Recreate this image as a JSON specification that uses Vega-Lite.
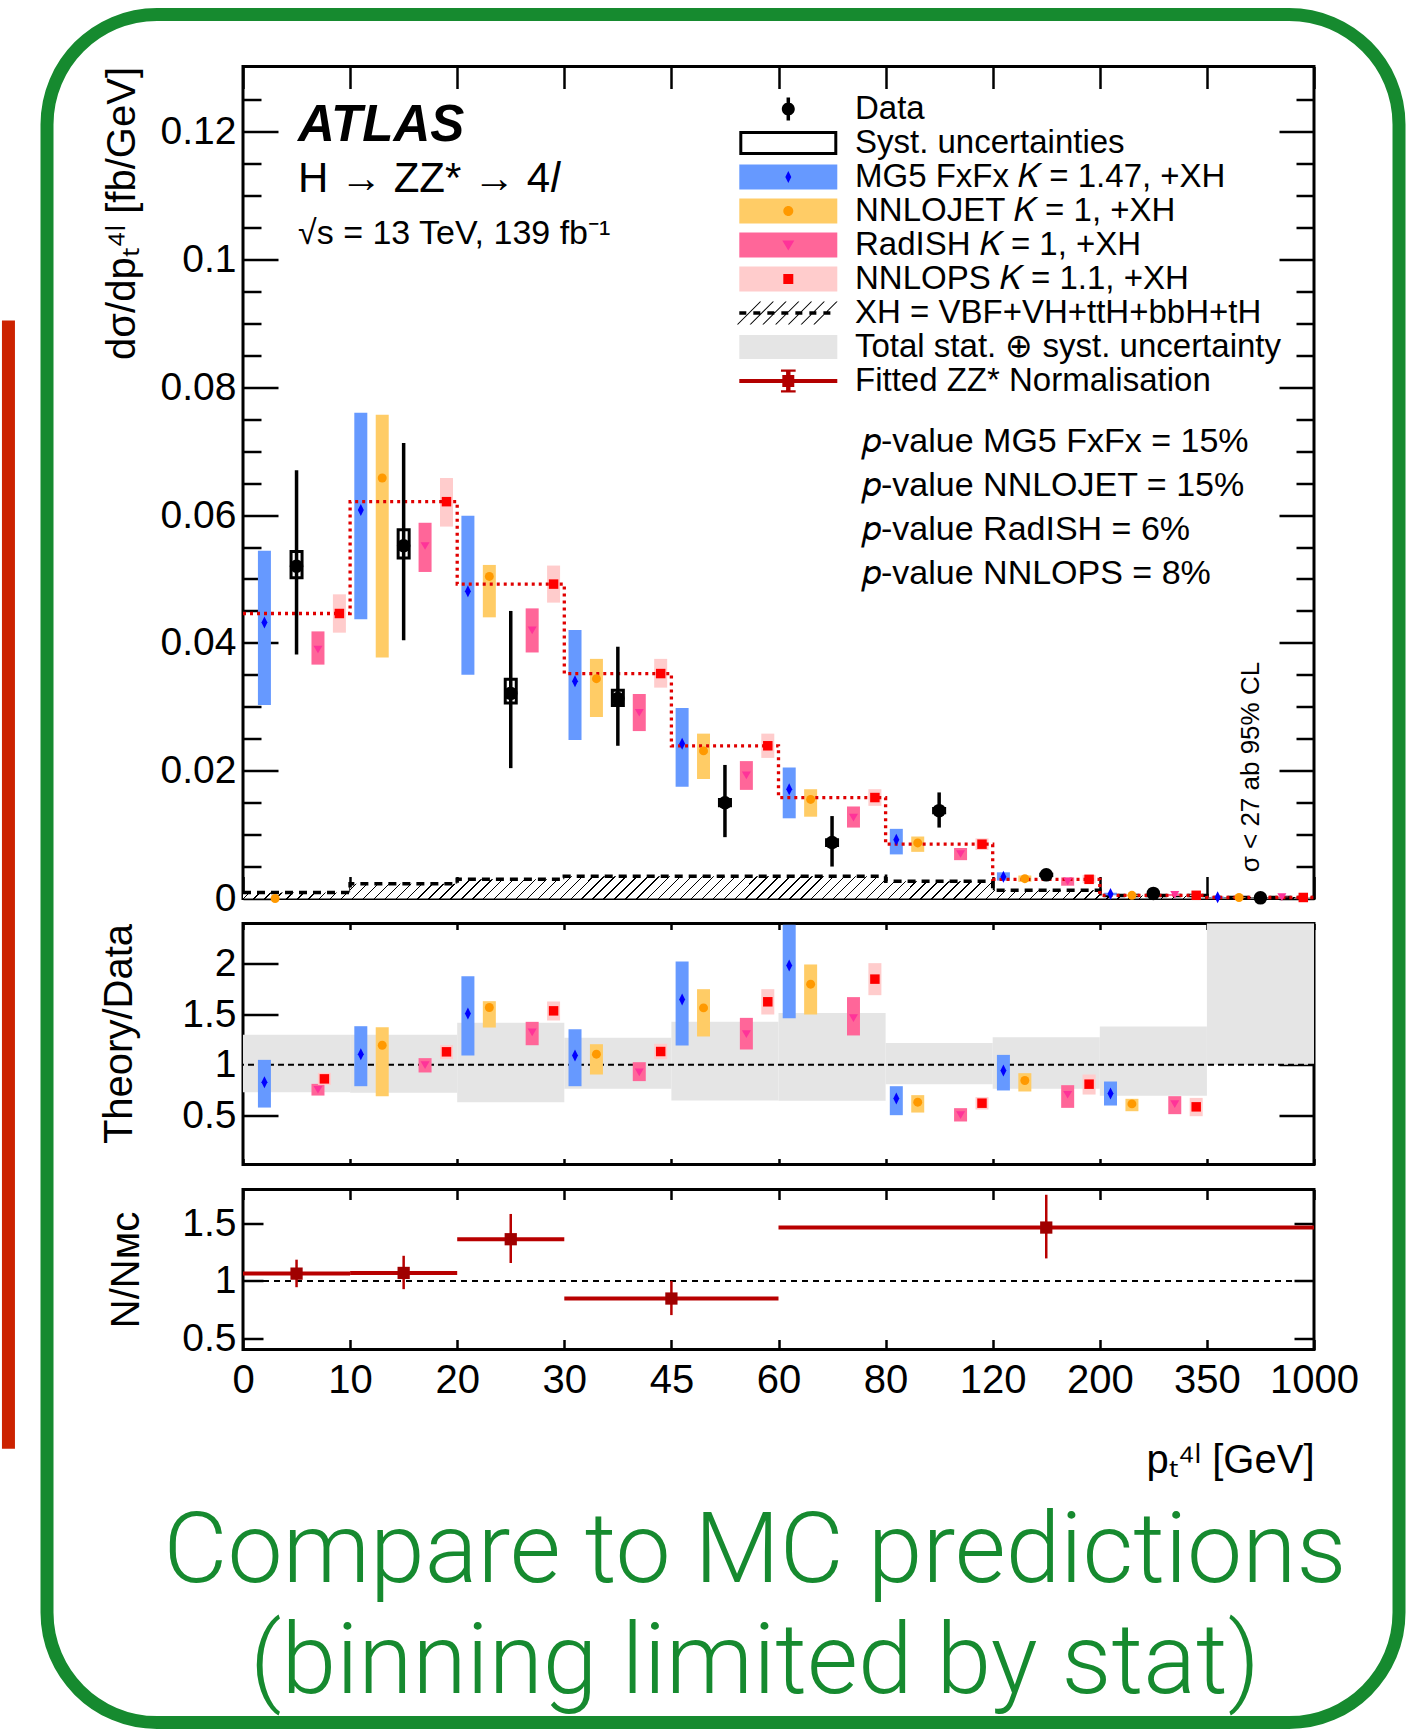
{
  "$schema": "https://vega.github.io/schema/vega-lite/v6.json",
  "background": "white",
  "padding": {"left": 0, "top": 5.5, "right": 0, "bottom": 0},
  "autosize": {"type": "pad"},
  "spacing": 25,
  "bounds": "flush",
  "config": {
    "view": {"stroke": "black", "strokeWidth": 3},
    "axis": {"domain": false, "grid": false, "ticks": true, "tickColor": "black", "tickWidth": 2.5,
             "labelFont": "Liberation Sans", "labelFontSize": 39, "labelColor": "black", "labelFlush": false, "labelOverlap": false, "labelBound": false,
             "titleFont": "Liberation Sans", "titleFontSize": 40, "titleFontWeight": "normal", "titleColor": "black"},
    "text": {"font": "Liberation Sans", "color": "black"}
  },
  "resolve": {"scale": {"fill": "independent", "color": "independent", "shape": "independent"}},
  "datasets": {
    "xh": [{"pt":0,"xh":0.00095},{"pt":10,"xh":0.0023},{"pt":20,"xh":0.003},{"pt":30,"xh":0.0035},{"pt":45,"xh":0.0035},{"pt":60,"xh":0.0035},{"pt":80,"xh":0.0027},{"pt":120,"xh":0.0013},{"pt":200,"xh":0.00047},{"pt":350,"xh":0.00016},{"pt":1000,"xh":0.00016}],
    "step": [{"pt":0,"y":0.0446},{"pt":10,"y":0.0621},{"pt":20,"y":0.0492},{"pt":30,"y":0.0352},{"pt":45,"y":0.0239},{"pt":60,"y":0.0158},{"pt":80,"y":0.0085},{"pt":120,"y":0.003},{"pt":200,"y":0.0005},{"pt":350,"y":0.00016},{"pt":1000,"y":0.00016}],
    "spec": [
      {"model":"MG5","pt":2,"y":0.0432,"lo":0.0303,"hi":0.0544},
      {"model":"MG5","pt":11,"y":0.0608,"lo":0.0437,"hi":0.076},
      {"model":"MG5","pt":21,"y":0.0481,"lo":0.035,"hi":0.0599},
      {"model":"MG5","pt":31.5,"y":0.034,"lo":0.0248,"hi":0.042},
      {"model":"MG5","pt":46.5,"y":0.0242,"lo":0.0175,"hi":0.0298},
      {"model":"MG5","pt":62,"y":0.0171,"lo":0.01255,"hi":0.0205},
      {"model":"MG5","pt":84,"y":0.0092,"lo":0.0069,"hi":0.0109},
      {"model":"MG5","pt":128,"y":0.0034,"lo":0.0028,"hi":0.0041},
      {"model":"MG5","pt":215,"y":0.0007,"lo":0.0005,"hi":0.0009},
      {"model":"MG5","pt":415,"y":0.0002,"lo":0.0001,"hi":0.0003},
      {"model":"NNLOJET","pt":3,"y":0,"lo":0,"hi":0},
      {"model":"NNLOJET","pt":13,"y":0.0658,"lo":0.0377,"hi":0.0757},
      {"model":"NNLOJET","pt":23,"y":0.0504,"lo":0.044,"hi":0.0522},
      {"model":"NNLOJET","pt":34.5,"y":0.0344,"lo":0.0284,"hi":0.0375},
      {"model":"NNLOJET","pt":49.5,"y":0.0231,"lo":0.0187,"hi":0.0258},
      {"model":"NNLOJET","pt":66,"y":0.0155,"lo":0.0128,"hi":0.0171},
      {"model":"NNLOJET","pt":92,"y":0.0087,"lo":0.0073,"hi":0.0097},
      {"model":"NNLOJET","pt":144,"y":0.0031,"lo":0.0026,"hi":0.0036},
      {"model":"NNLOJET","pt":245,"y":0.0005,"lo":0.0004,"hi":0.0006},
      {"model":"NNLOJET","pt":545,"y":0.00016,"lo":0.0001,"hi":0.0002},
      {"model":"RadISH","pt":7,"y":0.039,"lo":0.0366,"hi":0.0418},
      {"model":"RadISH","pt":17,"y":0.0552,"lo":0.0511,"hi":0.0588},
      {"model":"RadISH","pt":27,"y":0.042,"lo":0.0385,"hi":0.0454},
      {"model":"RadISH","pt":40.5,"y":0.0291,"lo":0.0262,"hi":0.032},
      {"model":"RadISH","pt":55.5,"y":0.0193,"lo":0.017,"hi":0.0215},
      {"model":"RadISH","pt":74,"y":0.0127,"lo":0.0111,"hi":0.0144},
      {"model":"RadISH","pt":108,"y":0.007,"lo":0.006,"hi":0.0079},
      {"model":"RadISH","pt":176,"y":0.0027,"lo":0.002,"hi":0.0033},
      {"model":"RadISH","pt":305,"y":0.0006,"lo":0.0004,"hi":0.0007},
      {"model":"RadISH","pt":805,"y":0.00026,"lo":0.0002,"hi":0.0003},
      {"model":"NNLOPS","pt":9,"y":0.0446,"lo":0.0416,"hi":0.0476},
      {"model":"NNLOPS","pt":19,"y":0.0621,"lo":0.0582,"hi":0.0658},
      {"model":"NNLOPS","pt":29,"y":0.0492,"lo":0.0463,"hi":0.0521},
      {"model":"NNLOPS","pt":43.5,"y":0.0352,"lo":0.033,"hi":0.0375},
      {"model":"NNLOPS","pt":58.5,"y":0.0239,"lo":0.022,"hi":0.0258},
      {"model":"NNLOPS","pt":78,"y":0.0158,"lo":0.0145,"hi":0.0171},
      {"model":"NNLOPS","pt":116,"y":0.0085,"lo":0.0076,"hi":0.0094},
      {"model":"NNLOPS","pt":192,"y":0.003,"lo":0.0024,"hi":0.0037},
      {"model":"NNLOPS","pt":335,"y":0.0005,"lo":0.0004,"hi":0.0006},
      {"model":"NNLOPS","pt":935,"y":0.00016,"lo":0.0001,"hi":0.0002}
    ],
    "meas": [
      {"pt":5,"y":0.052,"lo":0.0382,"hi":0.067,"slo":0.0502,"shi":0.0543},
      {"pt":15,"y":0.0552,"lo":0.0404,"hi":0.0713,"slo":0.0533,"shi":0.0577},
      {"pt":25,"y":0.0321,"lo":0.0204,"hi":0.045,"slo":0.0306,"shi":0.0343},
      {"pt":37.5,"y":0.0313,"lo":0.0239,"hi":0.0394,"slo":0.0302,"shi":0.0326},
      {"pt":52.5,"y":0.015,"lo":0.0096,"hi":0.0209,"slo":0.0145,"shi":0.0155},
      {"pt":70,"y":0.00875,"lo":0.005,"hi":0.0129,"slo":0.0083,"shi":0.0092},
      {"pt":100,"y":0.01375,"lo":0.0111,"hi":0.0166,"slo":0.0134,"shi":0.0141},
      {"pt":160,"y":0.0037,"lo":0.0033,"hi":0.0041,"slo":0.0036,"shi":0.0038},
      {"pt":275,"y":0.0008,"lo":0.0006,"hi":0.001,"slo":0.0008,"shi":0.0008},
      {"pt":675,"y":0.0001,"lo":0,"hi":0.0002,"slo":0.0001,"shi":0.0001}
    ],
    "band": [
      {"x0":0,"x1":10,"lo":0.731,"hi":1.295},
      {"x0":10,"x1":20,"lo":0.725,"hi":1.295},
      {"x0":20,"x1":30,"lo":0.633,"hi":1.413},
      {"x0":30,"x1":45,"lo":0.764,"hi":1.266},
      {"x0":45,"x1":60,"lo":0.649,"hi":1.423},
      {"x0":60,"x1":80,"lo":0.646,"hi":1.511},
      {"x0":80,"x1":120,"lo":0.81,"hi":1.216},
      {"x0":120,"x1":200,"lo":0.764,"hi":1.272},
      {"x0":200,"x1":350,"lo":0.695,"hi":1.377},
      {"x0":350,"x1":1000,"lo":1.0,"hi":2.39}
    ],
    "ratio": [
      {"model":"MG5","pt":2,"r":0.83,"lo":0.58,"hi":1.049},
      {"model":"MG5","pt":11,"r":1.105,"lo":0.79,"hi":1.38},
      {"model":"MG5","pt":21,"r":1.505,"lo":1.092,"hi":1.872},
      {"model":"MG5","pt":31.5,"r":1.092,"lo":0.79,"hi":1.35},
      {"model":"MG5","pt":46.5,"r":1.643,"lo":1.19,"hi":2.016},
      {"model":"MG5","pt":62,"r":1.977,"lo":1.459,"hi":2.377},
      {"model":"MG5","pt":84,"r":0.669,"lo":0.505,"hi":0.79},
      {"model":"MG5","pt":128,"r":0.944,"lo":0.748,"hi":1.098},
      {"model":"MG5","pt":215,"r":0.718,"lo":0.6,"hi":0.836},
      {"model":"NNLOJET","pt":13,"r":1.193,"lo":0.69,"hi":1.37},
      {"model":"NNLOJET","pt":23,"r":1.564,"lo":1.367,"hi":1.626},
      {"model":"NNLOJET","pt":34.5,"r":1.105,"lo":0.905,"hi":1.203},
      {"model":"NNLOJET","pt":49.5,"r":1.56,"lo":1.279,"hi":1.744},
      {"model":"NNLOJET","pt":66,"r":1.793,"lo":1.495,"hi":1.987},
      {"model":"NNLOJET","pt":92,"r":0.633,"lo":0.531,"hi":0.702},
      {"model":"NNLOJET","pt":144,"r":0.846,"lo":0.738,"hi":0.918},
      {"model":"NNLOJET","pt":245,"r":0.616,"lo":0.544,"hi":0.666},
      {"model":"RadISH","pt":7,"r":0.757,"lo":0.698,"hi":0.813},
      {"model":"RadISH","pt":17,"r":1.0,"lo":0.925,"hi":1.066},
      {"model":"RadISH","pt":27,"r":1.321,"lo":1.193,"hi":1.423},
      {"model":"RadISH","pt":40.5,"r":0.928,"lo":0.84,"hi":1.026},
      {"model":"RadISH","pt":55.5,"r":1.305,"lo":1.151,"hi":1.462},
      {"model":"RadISH","pt":74,"r":1.462,"lo":1.289,"hi":1.666},
      {"model":"RadISH","pt":108,"r":0.508,"lo":0.443,"hi":0.574},
      {"model":"RadISH","pt":176,"r":0.708,"lo":0.577,"hi":0.8},
      {"model":"RadISH","pt":305,"r":0.616,"lo":0.515,"hi":0.692},
      {"model":"NNLOPS","pt":7.6,"r":0.862,"lo":0.803,"hi":0.921},
      {"model":"NNLOPS","pt":19,"r":1.128,"lo":1.056,"hi":1.193},
      {"model":"NNLOPS","pt":29,"r":1.531,"lo":1.436,"hi":1.623},
      {"model":"NNLOPS","pt":43.5,"r":1.131,"lo":1.056,"hi":1.207},
      {"model":"NNLOPS","pt":58.5,"r":1.62,"lo":1.495,"hi":1.744},
      {"model":"NNLOPS","pt":78,"r":1.843,"lo":1.685,"hi":2.0},
      {"model":"NNLOPS","pt":116,"r":0.623,"lo":0.561,"hi":0.682},
      {"model":"NNLOPS","pt":192,"r":0.81,"lo":0.708,"hi":0.905},
      {"model":"NNLOPS","pt":335,"r":0.587,"lo":0.495,"hi":0.675}
    ],
    "norm": [
      {"x0":0,"x1":10,"pt":5,"y":1.064,"lo":0.945,"hi":1.186},
      {"x0":10,"x1":20,"pt":15,"y":1.07,"lo":0.928,"hi":1.22},
      {"x0":20,"x1":30,"pt":25,"y":1.365,"lo":1.157,"hi":1.586},
      {"x0":30,"x1":60,"pt":45,"y":0.846,"lo":0.701,"hi":1.0},
      {"x0":60,"x1":1000,"pt":160,"y":1.467,"lo":1.197,"hi":1.754}
    ],
    "legend_a": [
      {"entry":"Data"},{"entry":"Syst. uncertainties"},{"entry":"MG5 FxFx 𝐾 = 1.47, +XH"},{"entry":"NNLOJET 𝐾 = 1, +XH"},{"entry":"RadISH 𝐾 = 1, +XH"},{"entry":"NNLOPS 𝐾 = 1.1, +XH"},{"entry":"XH = VBF+VH+ttH+bbH+tH"},{"entry":"Total stat. ⊕ syst. uncertainty"},{"entry":"Fitted ZZ* Normalisation"}
    ],
    "legend_b": [
      {"entry":"data marker"},{"entry":"syst marker"},{"entry":"mg5 marker"},{"entry":"nnlojet marker"},{"entry":"radish marker"},{"entry":"nnlops marker"},{"entry":"xh marker"},{"entry":"total marker"},{"entry":"fit marker"}
    ]
  },
  "vconcat": [
    {
      "width": 1071,
      "height": 832,
      "resolve": {"scale": {"fill": "independent", "color": "independent", "shape": "independent"}, "axis": {"x": "independent", "y": "independent"}},
      "layer": [
        {
          "data": {"name": "xh"},
          "mark": {"type": "area", "interpolate": "step-after", "opacity": 1,
            "fill": {"gradient": "linear", "x1": 0, "y1": 0, "x2": 1.0204, "y2": 0.0213, "stops": [
              {"offset":0,"color":"#fff"},{"offset":0,"color":"#000"},{"offset":0.0013,"color":"#000"},{"offset":0.0013,"color":"#fff"},
              {"offset":0.01,"color":"#fff"},{"offset":0.01,"color":"#000"},{"offset":0.0113,"color":"#000"},{"offset":0.0113,"color":"#fff"},
              {"offset":0.02,"color":"#fff"},{"offset":0.02,"color":"#000"},{"offset":0.0213,"color":"#000"},{"offset":0.0213,"color":"#fff"},
              {"offset":0.03,"color":"#fff"},{"offset":0.03,"color":"#000"},{"offset":0.0313,"color":"#000"},{"offset":0.0313,"color":"#fff"},
              {"offset":0.04,"color":"#fff"},{"offset":0.04,"color":"#000"},{"offset":0.0413,"color":"#000"},{"offset":0.0413,"color":"#fff"},
              {"offset":0.05,"color":"#fff"},{"offset":0.05,"color":"#000"},{"offset":0.0513,"color":"#000"},{"offset":0.0513,"color":"#fff"},
              {"offset":0.06,"color":"#fff"},{"offset":0.06,"color":"#000"},{"offset":0.0613,"color":"#000"},{"offset":0.0613,"color":"#fff"},
              {"offset":0.07,"color":"#fff"},{"offset":0.07,"color":"#000"},{"offset":0.0713,"color":"#000"},{"offset":0.0713,"color":"#fff"},
              {"offset":0.08,"color":"#fff"},{"offset":0.08,"color":"#000"},{"offset":0.0813,"color":"#000"},{"offset":0.0813,"color":"#fff"},
              {"offset":0.09,"color":"#fff"},{"offset":0.09,"color":"#000"},{"offset":0.0913,"color":"#000"},{"offset":0.0913,"color":"#fff"},
              {"offset":0.1,"color":"#fff"},{"offset":0.1,"color":"#000"},{"offset":0.1013,"color":"#000"},{"offset":0.1013,"color":"#fff"},
              {"offset":0.11,"color":"#fff"},{"offset":0.11,"color":"#000"},{"offset":0.1113,"color":"#000"},{"offset":0.1113,"color":"#fff"},
              {"offset":0.12,"color":"#fff"},{"offset":0.12,"color":"#000"},{"offset":0.1213,"color":"#000"},{"offset":0.1213,"color":"#fff"},
              {"offset":0.13,"color":"#fff"},{"offset":0.13,"color":"#000"},{"offset":0.1313,"color":"#000"},{"offset":0.1313,"color":"#fff"},
              {"offset":0.14,"color":"#fff"},{"offset":0.14,"color":"#000"},{"offset":0.1413,"color":"#000"},{"offset":0.1413,"color":"#fff"},
              {"offset":0.15,"color":"#fff"},{"offset":0.15,"color":"#000"},{"offset":0.1513,"color":"#000"},{"offset":0.1513,"color":"#fff"},
              {"offset":0.16,"color":"#fff"},{"offset":0.16,"color":"#000"},{"offset":0.1613,"color":"#000"},{"offset":0.1613,"color":"#fff"},
              {"offset":0.17,"color":"#fff"},{"offset":0.17,"color":"#000"},{"offset":0.1713,"color":"#000"},{"offset":0.1713,"color":"#fff"},
              {"offset":0.18,"color":"#fff"},{"offset":0.18,"color":"#000"},{"offset":0.1813,"color":"#000"},{"offset":0.1813,"color":"#fff"},
              {"offset":0.19,"color":"#fff"},{"offset":0.19,"color":"#000"},{"offset":0.1913,"color":"#000"},{"offset":0.1913,"color":"#fff"},
              {"offset":0.2,"color":"#fff"},{"offset":0.2,"color":"#000"},{"offset":0.2013,"color":"#000"},{"offset":0.2013,"color":"#fff"},
              {"offset":0.21,"color":"#fff"},{"offset":0.21,"color":"#000"},{"offset":0.2113,"color":"#000"},{"offset":0.2113,"color":"#fff"},
              {"offset":0.22,"color":"#fff"},{"offset":0.22,"color":"#000"},{"offset":0.2213,"color":"#000"},{"offset":0.2213,"color":"#fff"},
              {"offset":0.23,"color":"#fff"},{"offset":0.23,"color":"#000"},{"offset":0.2313,"color":"#000"},{"offset":0.2313,"color":"#fff"},
              {"offset":0.24,"color":"#fff"},{"offset":0.24,"color":"#000"},{"offset":0.2413,"color":"#000"},{"offset":0.2413,"color":"#fff"},
              {"offset":0.25,"color":"#fff"},{"offset":0.25,"color":"#000"},{"offset":0.2513,"color":"#000"},{"offset":0.2513,"color":"#fff"},
              {"offset":0.26,"color":"#fff"},{"offset":0.26,"color":"#000"},{"offset":0.2613,"color":"#000"},{"offset":0.2613,"color":"#fff"},
              {"offset":0.27,"color":"#fff"},{"offset":0.27,"color":"#000"},{"offset":0.2713,"color":"#000"},{"offset":0.2713,"color":"#fff"},
              {"offset":0.28,"color":"#fff"},{"offset":0.28,"color":"#000"},{"offset":0.2813,"color":"#000"},{"offset":0.2813,"color":"#fff"},
              {"offset":0.29,"color":"#fff"},{"offset":0.29,"color":"#000"},{"offset":0.2913,"color":"#000"},{"offset":0.2913,"color":"#fff"},
              {"offset":0.3,"color":"#fff"},{"offset":0.3,"color":"#000"},{"offset":0.3013,"color":"#000"},{"offset":0.3013,"color":"#fff"},
              {"offset":0.31,"color":"#fff"},{"offset":0.31,"color":"#000"},{"offset":0.3113,"color":"#000"},{"offset":0.3113,"color":"#fff"},
              {"offset":0.32,"color":"#fff"},{"offset":0.32,"color":"#000"},{"offset":0.3213,"color":"#000"},{"offset":0.3213,"color":"#fff"},
              {"offset":0.33,"color":"#fff"},{"offset":0.33,"color":"#000"},{"offset":0.3313,"color":"#000"},{"offset":0.3313,"color":"#fff"},
              {"offset":0.34,"color":"#fff"},{"offset":0.34,"color":"#000"},{"offset":0.3413,"color":"#000"},{"offset":0.3413,"color":"#fff"},
              {"offset":0.35,"color":"#fff"},{"offset":0.35,"color":"#000"},{"offset":0.3513,"color":"#000"},{"offset":0.3513,"color":"#fff"},
              {"offset":0.36,"color":"#fff"},{"offset":0.36,"color":"#000"},{"offset":0.3613,"color":"#000"},{"offset":0.3613,"color":"#fff"},
              {"offset":0.37,"color":"#fff"},{"offset":0.37,"color":"#000"},{"offset":0.3713,"color":"#000"},{"offset":0.3713,"color":"#fff"},
              {"offset":0.38,"color":"#fff"},{"offset":0.38,"color":"#000"},{"offset":0.3813,"color":"#000"},{"offset":0.3813,"color":"#fff"},
              {"offset":0.39,"color":"#fff"},{"offset":0.39,"color":"#000"},{"offset":0.3913,"color":"#000"},{"offset":0.3913,"color":"#fff"},
              {"offset":0.4,"color":"#fff"},{"offset":0.4,"color":"#000"},{"offset":0.4013,"color":"#000"},{"offset":0.4013,"color":"#fff"},
              {"offset":0.41,"color":"#fff"},{"offset":0.41,"color":"#000"},{"offset":0.4113,"color":"#000"},{"offset":0.4113,"color":"#fff"},
              {"offset":0.42,"color":"#fff"},{"offset":0.42,"color":"#000"},{"offset":0.4213,"color":"#000"},{"offset":0.4213,"color":"#fff"},
              {"offset":0.43,"color":"#fff"},{"offset":0.43,"color":"#000"},{"offset":0.4313,"color":"#000"},{"offset":0.4313,"color":"#fff"},
              {"offset":0.44,"color":"#fff"},{"offset":0.44,"color":"#000"},{"offset":0.4413,"color":"#000"},{"offset":0.4413,"color":"#fff"},
              {"offset":0.45,"color":"#fff"},{"offset":0.45,"color":"#000"},{"offset":0.4513,"color":"#000"},{"offset":0.4513,"color":"#fff"},
              {"offset":0.46,"color":"#fff"},{"offset":0.46,"color":"#000"},{"offset":0.4613,"color":"#000"},{"offset":0.4613,"color":"#fff"},
              {"offset":0.47,"color":"#fff"},{"offset":0.47,"color":"#000"},{"offset":0.4713,"color":"#000"},{"offset":0.4713,"color":"#fff"},
              {"offset":0.48,"color":"#fff"},{"offset":0.48,"color":"#000"},{"offset":0.4813,"color":"#000"},{"offset":0.4813,"color":"#fff"},
              {"offset":0.49,"color":"#fff"},{"offset":0.49,"color":"#000"},{"offset":0.4913,"color":"#000"},{"offset":0.4913,"color":"#fff"},
              {"offset":0.5,"color":"#fff"},{"offset":0.5,"color":"#000"},{"offset":0.5013,"color":"#000"},{"offset":0.5013,"color":"#fff"},
              {"offset":0.51,"color":"#fff"},{"offset":0.51,"color":"#000"},{"offset":0.5113,"color":"#000"},{"offset":0.5113,"color":"#fff"},
              {"offset":0.52,"color":"#fff"},{"offset":0.52,"color":"#000"},{"offset":0.5213,"color":"#000"},{"offset":0.5213,"color":"#fff"},
              {"offset":0.53,"color":"#fff"},{"offset":0.53,"color":"#000"},{"offset":0.5313,"color":"#000"},{"offset":0.5313,"color":"#fff"},
              {"offset":0.54,"color":"#fff"},{"offset":0.54,"color":"#000"},{"offset":0.5413,"color":"#000"},{"offset":0.5413,"color":"#fff"},
              {"offset":0.55,"color":"#fff"},{"offset":0.55,"color":"#000"},{"offset":0.5513,"color":"#000"},{"offset":0.5513,"color":"#fff"},
              {"offset":0.56,"color":"#fff"},{"offset":0.56,"color":"#000"},{"offset":0.5613,"color":"#000"},{"offset":0.5613,"color":"#fff"},
              {"offset":0.57,"color":"#fff"},{"offset":0.57,"color":"#000"},{"offset":0.5713,"color":"#000"},{"offset":0.5713,"color":"#fff"},
              {"offset":0.58,"color":"#fff"},{"offset":0.58,"color":"#000"},{"offset":0.5813,"color":"#000"},{"offset":0.5813,"color":"#fff"},
              {"offset":0.59,"color":"#fff"},{"offset":0.59,"color":"#000"},{"offset":0.5913,"color":"#000"},{"offset":0.5913,"color":"#fff"},
              {"offset":0.6,"color":"#fff"},{"offset":0.6,"color":"#000"},{"offset":0.6013,"color":"#000"},{"offset":0.6013,"color":"#fff"},
              {"offset":0.61,"color":"#fff"},{"offset":0.61,"color":"#000"},{"offset":0.6113,"color":"#000"},{"offset":0.6113,"color":"#fff"},
              {"offset":0.62,"color":"#fff"},{"offset":0.62,"color":"#000"},{"offset":0.6213,"color":"#000"},{"offset":0.6213,"color":"#fff"},
              {"offset":0.63,"color":"#fff"},{"offset":0.63,"color":"#000"},{"offset":0.6313,"color":"#000"},{"offset":0.6313,"color":"#fff"},
              {"offset":0.64,"color":"#fff"},{"offset":0.64,"color":"#000"},{"offset":0.6413,"color":"#000"},{"offset":0.6413,"color":"#fff"},
              {"offset":0.65,"color":"#fff"},{"offset":0.65,"color":"#000"},{"offset":0.6513,"color":"#000"},{"offset":0.6513,"color":"#fff"},
              {"offset":0.66,"color":"#fff"},{"offset":0.66,"color":"#000"},{"offset":0.6613,"color":"#000"},{"offset":0.6613,"color":"#fff"},
              {"offset":0.67,"color":"#fff"},{"offset":0.67,"color":"#000"},{"offset":0.6713,"color":"#000"},{"offset":0.6713,"color":"#fff"},
              {"offset":0.68,"color":"#fff"},{"offset":0.68,"color":"#000"},{"offset":0.6813,"color":"#000"},{"offset":0.6813,"color":"#fff"},
              {"offset":0.69,"color":"#fff"},{"offset":0.69,"color":"#000"},{"offset":0.6913,"color":"#000"},{"offset":0.6913,"color":"#fff"},
              {"offset":0.7,"color":"#fff"},{"offset":0.7,"color":"#000"},{"offset":0.7013,"color":"#000"},{"offset":0.7013,"color":"#fff"},
              {"offset":0.71,"color":"#fff"},{"offset":0.71,"color":"#000"},{"offset":0.7113,"color":"#000"},{"offset":0.7113,"color":"#fff"},
              {"offset":0.72,"color":"#fff"},{"offset":0.72,"color":"#000"},{"offset":0.7213,"color":"#000"},{"offset":0.7213,"color":"#fff"},
              {"offset":0.73,"color":"#fff"},{"offset":0.73,"color":"#000"},{"offset":0.7313,"color":"#000"},{"offset":0.7313,"color":"#fff"},
              {"offset":0.74,"color":"#fff"},{"offset":0.74,"color":"#000"},{"offset":0.7413,"color":"#000"},{"offset":0.7413,"color":"#fff"},
              {"offset":0.75,"color":"#fff"},{"offset":0.75,"color":"#000"},{"offset":0.7513,"color":"#000"},{"offset":0.7513,"color":"#fff"},
              {"offset":0.76,"color":"#fff"},{"offset":0.76,"color":"#000"},{"offset":0.7613,"color":"#000"},{"offset":0.7613,"color":"#fff"},
              {"offset":0.77,"color":"#fff"},{"offset":0.77,"color":"#000"},{"offset":0.7713,"color":"#000"},{"offset":0.7713,"color":"#fff"},
              {"offset":0.78,"color":"#fff"},{"offset":0.78,"color":"#000"},{"offset":0.7813,"color":"#000"},{"offset":0.7813,"color":"#fff"},
              {"offset":0.79,"color":"#fff"},{"offset":0.79,"color":"#000"},{"offset":0.7913,"color":"#000"},{"offset":0.7913,"color":"#fff"},
              {"offset":0.8,"color":"#fff"},{"offset":0.8,"color":"#000"},{"offset":0.8013,"color":"#000"},{"offset":0.8013,"color":"#fff"},
              {"offset":0.81,"color":"#fff"},{"offset":0.81,"color":"#000"},{"offset":0.8113,"color":"#000"},{"offset":0.8113,"color":"#fff"},
              {"offset":0.82,"color":"#fff"},{"offset":0.82,"color":"#000"},{"offset":0.8213,"color":"#000"},{"offset":0.8213,"color":"#fff"},
              {"offset":0.83,"color":"#fff"},{"offset":0.83,"color":"#000"},{"offset":0.8313,"color":"#000"},{"offset":0.8313,"color":"#fff"},
              {"offset":0.84,"color":"#fff"},{"offset":0.84,"color":"#000"},{"offset":0.8413,"color":"#000"},{"offset":0.8413,"color":"#fff"},
              {"offset":0.85,"color":"#fff"},{"offset":0.85,"color":"#000"},{"offset":0.8513,"color":"#000"},{"offset":0.8513,"color":"#fff"},
              {"offset":0.86,"color":"#fff"},{"offset":0.86,"color":"#000"},{"offset":0.8613,"color":"#000"},{"offset":0.8613,"color":"#fff"},
              {"offset":0.87,"color":"#fff"},{"offset":0.87,"color":"#000"},{"offset":0.8713,"color":"#000"},{"offset":0.8713,"color":"#fff"},
              {"offset":0.88,"color":"#fff"},{"offset":0.88,"color":"#000"},{"offset":0.8813,"color":"#000"},{"offset":0.8813,"color":"#fff"},
              {"offset":0.89,"color":"#fff"},{"offset":0.89,"color":"#000"},{"offset":0.8913,"color":"#000"},{"offset":0.8913,"color":"#fff"},
              {"offset":0.9,"color":"#fff"},{"offset":0.9,"color":"#000"},{"offset":0.9013,"color":"#000"},{"offset":0.9013,"color":"#fff"},
              {"offset":0.91,"color":"#fff"},{"offset":0.91,"color":"#000"},{"offset":0.9113,"color":"#000"},{"offset":0.9113,"color":"#fff"},
              {"offset":0.92,"color":"#fff"},{"offset":0.92,"color":"#000"},{"offset":0.9213,"color":"#000"},{"offset":0.9213,"color":"#fff"},
              {"offset":0.93,"color":"#fff"},{"offset":0.93,"color":"#000"},{"offset":0.9313,"color":"#000"},{"offset":0.9313,"color":"#fff"},
              {"offset":0.94,"color":"#fff"},{"offset":0.94,"color":"#000"},{"offset":0.9413,"color":"#000"},{"offset":0.9413,"color":"#fff"},
              {"offset":0.95,"color":"#fff"},{"offset":0.95,"color":"#000"},{"offset":0.9513,"color":"#000"},{"offset":0.9513,"color":"#fff"},
              {"offset":0.96,"color":"#fff"},{"offset":0.96,"color":"#000"},{"offset":0.9613,"color":"#000"},{"offset":0.9613,"color":"#fff"},
              {"offset":0.97,"color":"#fff"},{"offset":0.97,"color":"#000"},{"offset":0.9713,"color":"#000"},{"offset":0.9713,"color":"#fff"},
              {"offset":0.98,"color":"#fff"},{"offset":0.98,"color":"#000"},{"offset":0.9813,"color":"#000"},{"offset":0.9813,"color":"#fff"},
              {"offset":0.99,"color":"#fff"},{"offset":0.99,"color":"#000"},{"offset":0.9913,"color":"#000"},{"offset":0.9913,"color":"#fff"}
            ]}},
          "encoding": {
            "x": {"field": "pt", "type": "quantitative",
                  "scale": {"type": "linear", "domain": [0,10,20,30,45,60,80,120,200,350,1000], "range": [0,107.1,214.2,321.3,428.4,535.5,642.6,749.7,856.8,963.9,1071], "nice": false, "zero": false, "padding": 0},
                  "axis": {"orient": "bottom", "values": [0,10,20,30,45,60,80,120,200,350,1000], "tickSize": -22, "labels": false, "title": null}},
            "y": {"field": "xh", "type": "quantitative",
                  "scale": {"domain": [0, 0.1302], "nice": false, "zero": false, "padding": 0},
                  "axis": {"orient": "left", "values": [0,0.02,0.04,0.06,0.08,0.1,0.12], "format": "~g", "tickSize": -35, "labelPadding": 42,
                           "title": "dσ/dpₜ⁴ˡ [fb/GeV]", "titleAnchor": "end", "titlePadding": 18}}
          }
        },
        {
          "data": {"name": "xh"},
          "mark": {"type": "line", "interpolate": "step-after", "color": "black", "strokeWidth": 3.5, "strokeDash": [8, 6], "opacity": 1},
          "encoding": {
            "x": {"field": "pt", "type": "quantitative", "axis": {"orient": "top", "values": [0,10,20,30,45,60,80,120,200,350,1000], "tickSize": -22, "labels": false, "title": null}},
            "y": {"field": "xh", "type": "quantitative", "axis": {"orient": "right", "values": [0,0.02,0.04,0.06,0.08,0.1,0.12], "tickSize": -35, "labels": false, "title": null}}
          }
        },
        {
          "data": {"name": "spec"},
          "transform": [{"filter": "datum.model == 'MG5'"}],
          "mark": {"type": "bar", "size": 13, "color": "#6699ff", "opacity": 1},
          "encoding": {
            "x": {"field": "pt", "type": "quantitative", "axis": null},
            "y": {"field": "lo", "type": "quantitative", "axis": {"orient": "left", "values": [0.005,0.01,0.015,0.025,0.03,0.035,0.045,0.05,0.055,0.065,0.07,0.075,0.085,0.09,0.095,0.105,0.11,0.115,0.125], "tickSize": -18, "labels": false, "title": null}},
            "y2": {"field": "hi"}
          }
        },
        {
          "data": {"name": "spec"},
          "transform": [{"filter": "datum.model == 'NNLOJET'"}],
          "mark": {"type": "bar", "size": 13, "color": "#ffcc66", "opacity": 1},
          "encoding": {
            "x": {"field": "pt", "type": "quantitative", "axis": null},
            "y": {"field": "lo", "type": "quantitative", "axis": {"orient": "right", "values": [0.005,0.01,0.015,0.025,0.03,0.035,0.045,0.05,0.055,0.065,0.07,0.075,0.085,0.09,0.095,0.105,0.11,0.115,0.125], "tickSize": -18, "labels": false, "title": null}},
            "y2": {"field": "hi"}
          }
        },
        {
          "data": {"name": "spec"},
          "transform": [{"filter": "datum.model == 'RadISH'"}],
          "mark": {"type": "bar", "size": 13, "color": "#ff6699", "opacity": 1},
          "encoding": {
            "x": {"field": "pt", "type": "quantitative", "axis": null},
            "y": {"field": "lo", "type": "quantitative", "axis": null},
            "y2": {"field": "hi"}
          }
        },
        {
          "data": {"name": "spec"},
          "transform": [{"filter": "datum.model == 'NNLOPS'"}],
          "mark": {"type": "bar", "size": 13, "color": "#ffcccc", "opacity": 1},
          "encoding": {
            "x": {"field": "pt", "type": "quantitative", "axis": null},
            "y": {"field": "lo", "type": "quantitative", "axis": null},
            "y2": {"field": "hi"}
          }
        },
        {
          "data": {"name": "step"},
          "mark": {"type": "line", "interpolate": "step-after", "color": "#e00000", "strokeWidth": 3.3, "strokeDash": [3, 4], "opacity": 1},
          "encoding": {
            "x": {"field": "pt", "type": "quantitative", "axis": null},
            "y": {"field": "y", "type": "quantitative", "axis": null}
          }
        },
        {
          "data": {"name": "spec"},
          "transform": [{"filter": "datum.model == 'MG5'"}],
          "mark": {"type": "point", "filled": true, "shape": "M0,-1L0.5,0L0,1L-0.5,0Z", "size": 144, "color": "#0000ff", "opacity": 1, "clip": false},
          "encoding": {"x": {"field": "pt", "type": "quantitative", "axis": null}, "y": {"field": "y", "type": "quantitative", "axis": null}}
        },
        {
          "data": {"name": "spec"},
          "transform": [{"filter": "datum.model == 'NNLOJET'"}],
          "mark": {"type": "point", "filled": true, "shape": "circle", "size": 80, "color": "#ff9900", "opacity": 1, "clip": false},
          "encoding": {"x": {"field": "pt", "type": "quantitative", "axis": null}, "y": {"field": "y", "type": "quantitative", "axis": null}}
        },
        {
          "data": {"name": "spec"},
          "transform": [{"filter": "datum.model == 'RadISH'"}],
          "mark": {"type": "point", "filled": true, "shape": "M-1,-0.8L1,-0.8L0,0.9Z", "size": 81, "color": "#ff3399", "opacity": 1, "clip": false},
          "encoding": {"x": {"field": "pt", "type": "quantitative", "axis": null}, "y": {"field": "y", "type": "quantitative", "axis": null}}
        },
        {
          "data": {"name": "spec"},
          "transform": [{"filter": "datum.model == 'NNLOPS'"}],
          "mark": {"type": "point", "filled": true, "shape": "square", "size": 90, "color": "#ff0000", "opacity": 1, "clip": false},
          "encoding": {"x": {"field": "pt", "type": "quantitative", "axis": null}, "y": {"field": "y", "type": "quantitative", "axis": null}}
        },
        {
          "data": {"name": "meas"},
          "mark": {"type": "rule", "color": "black", "strokeWidth": 3.5, "opacity": 1},
          "encoding": {"x": {"field": "pt", "type": "quantitative", "axis": null}, "y": {"field": "lo", "type": "quantitative", "axis": null}, "y2": {"field": "hi"}}
        },
        {
          "data": {"name": "meas"},
          "mark": {"type": "bar", "size": 11, "fill": "transparent", "stroke": "black", "strokeWidth": 3, "opacity": 1},
          "encoding": {"x": {"field": "pt", "type": "quantitative", "axis": null}, "y": {"field": "slo", "type": "quantitative", "axis": null}, "y2": {"field": "shi"}}
        },
        {
          "data": {"name": "meas"},
          "mark": {"type": "point", "filled": true, "shape": "circle", "size": 182, "color": "black", "opacity": 1, "clip": false},
          "encoding": {"x": {"field": "pt", "type": "quantitative", "axis": null}, "y": {"field": "y", "type": "quantitative", "axis": null}}
        },
        {
          "data": {"values": [{}]},
          "mark": {"type": "text", "text": "ATLAS", "fontSize": 51, "fontWeight": "bold", "fontStyle": "italic", "align": "left", "baseline": "alphabetic"},
          "encoding": {"x": {"datum": 5.14, "axis": null}, "y": {"datum": 0.1186, "axis": null}}
        },
        {
          "data": {"values": [{}]},
          "mark": {"type": "text", "text": "H → ZZ* → 4𝑙", "fontSize": 42, "align": "left", "baseline": "alphabetic"},
          "encoding": {"x": {"datum": 5.14, "axis": null}, "y": {"datum": 0.1105, "axis": null}}
        },
        {
          "data": {"values": [{}]},
          "mark": {"type": "text", "text": "√s = 13 TeV, 139 fb⁻¹", "fontSize": 34, "align": "left", "baseline": "alphabetic"},
          "encoding": {"x": {"datum": 5.14, "axis": null}, "y": {"datum": 0.1024, "axis": null}}
        },
        {
          "data": {"values": [{}]},
          "mark": {"type": "text", "text": ["𝑝-value MG5 FxFx = 15%", "𝑝-value NNLOJET = 15%", "𝑝-value RadISH = 6%", "𝑝-value NNLOPS = 8%"], "fontSize": 34, "lineHeight": 44, "align": "left", "baseline": "alphabetic"},
          "encoding": {"x": {"datum": 75.6, "axis": null}, "y": {"datum": 0.0698, "axis": null}}
        },
        {
          "data": {"values": [{}]},
          "mark": {"type": "text", "text": "σ < 27 ab 95% CL", "fontSize": 26, "angle": 270, "align": "left", "baseline": "middle"},
          "encoding": {"x": {"datum": 617.6, "axis": null}, "y": {"datum": 0.0041, "axis": null}}
        },
        {
          "data": {"name": "legend_a"},
          "mark": {"type": "point", "filled": true, "opacity": 0, "size": 0},
          "encoding": {
            "fill": {"field": "entry", "type": "nominal",
                     "scale": {"domain": ["Data","Syst. uncertainties","MG5 FxFx 𝐾 = 1.47, +XH","NNLOJET 𝐾 = 1, +XH","RadISH 𝐾 = 1, +XH","NNLOPS 𝐾 = 1.1, +XH","XH = VBF+VH+ttH+bbH+tH","Total stat. ⊕ syst. uncertainty","Fitted ZZ* Normalisation"],
                               "range": ["#000000","#000000","#6699ff","#ffcc66","#ff6699","#ffcccc","#000000","#e5e5e5","#b30000"]},
                     "legend": {"orient": "none", "legendX": 496.3, "legendY": 25.5, "title": null, "padding": 0, "direction": "vertical", "symbolSize": 1156, "symbolOffset": 32, "symbolStrokeWidth": 0, "symbolOpacity": 1, "labelFont": "Liberation Sans", "labelFontSize": 33, "labelColor": "black", "labelOffset": 49.7, "labelLimit": 800, "rowPadding": 0}},
            "shape": {"field": "entry", "type": "nominal",
                      "scale": {"domain": ["Data","Syst. uncertainties","MG5 FxFx 𝐾 = 1.47, +XH","NNLOJET 𝐾 = 1, +XH","RadISH 𝐾 = 1, +XH","NNLOPS 𝐾 = 1.1, +XH","XH = VBF+VH+ttH+bbH+tH","Total stat. ⊕ syst. uncertainty","Fitted ZZ* Normalisation"],
                                "range": [
                                  "M-0.103,-0.676H0.103V0.676H-0.103Z M-0.382,0A0.382,0.382,0,1,1,0.382,0A0.382,0.382,0,1,1,-0.382,0Z",
                                  "M-2.882,-0.706H2.882V0.706H-2.882Z M-2.706,-0.53V0.53H2.706V-0.53Z",
                                  "M-2.882,-0.735H2.882V0.735H-2.882Z",
                                  "M-2.882,-0.735H2.882V0.735H-2.882Z",
                                  "M-2.882,-0.735H2.882V0.735H-2.882Z",
                                  "M-2.882,-0.735H2.882V0.735H-2.882Z",
                                  "M-2.882,-0.107H-2.47V0.107H-2.882Z M-2.058,-0.107H-1.646V0.107H-2.058Z M-1.233,-0.107H-0.821V0.107H-1.233Z M-0.409,-0.107H0.003V0.107H-0.409Z M0.415,-0.107H0.827V0.107H0.415Z M1.239,-0.107H1.651V0.107H1.239Z M2.064,-0.107H2.476V0.107H2.064Z M-3.026,0.677L-1.671,-0.677H-1.593L-2.948,0.677Z M-2.277,0.677L-0.922,-0.677H-0.844L-2.199,0.677Z M-1.527,0.677L-0.172,-0.677H-0.094L-1.449,0.677Z M-0.778,0.677L0.577,-0.677H0.655L-0.7,0.677Z M-0.029,0.677L1.326,-0.677H1.404L0.049,0.677Z M0.721,0.677L2.076,-0.677H2.154L0.799,0.677Z M1.47,0.677L2.825,-0.677H2.903L1.548,0.677Z",
                                  "M-2.882,-0.706H2.882V0.706H-2.882Z",
                                  "M-2.882,-0.115H2.882V0.115H-2.882Z M-0.13,-0.676H0.13V0.676H-0.13Z M-0.352,-0.352H0.352V0.352H-0.352Z M-0.432,-0.676H0.432V-0.548H-0.432Z M-0.432,0.548H0.432V0.676H-0.432Z"
                                ]},
                      "legend": {"orient": "none", "legendX": 496.3, "legendY": 25.5, "title": null, "padding": 0, "direction": "vertical", "symbolSize": 1156, "symbolOffset": 32, "symbolStrokeWidth": 0, "symbolOpacity": 1, "labelFont": "Liberation Sans", "labelFontSize": 33, "labelColor": "black", "labelOffset": 49.7, "labelLimit": 800, "rowPadding": 0}}
          }
        },
        {
          "data": {"name": "legend_b"},
          "mark": {"type": "point", "filled": true, "opacity": 0, "size": 0},
          "encoding": {
            "color": {"field": "entry", "type": "nominal",
                      "scale": {"domain": ["data marker","syst marker","mg5 marker","nnlojet marker","radish marker","nnlops marker","xh marker","total marker","fit marker"],
                                "range": ["#000000","#000000","#0000ff","#ff9900","#ff3399","#ff0000","#000000","#000000","#000000"]},
                      "legend": {"orient": "none", "legendX": 496.3, "legendY": 25.5, "title": null, "padding": 0, "direction": "vertical", "symbolSize": 1156, "symbolOffset": 32, "symbolStrokeWidth": 0, "symbolOpacity": 1, "labelFont": "Liberation Sans", "labelFontSize": 33, "labelExpr": "''", "labelOffset": 49.7, "labelLimit": 800, "rowPadding": 0}},
            "shape": {"field": "entry", "type": "nominal",
                      "scale": {"domain": ["data marker","syst marker","mg5 marker","nnlojet marker","radish marker","nnlops marker","xh marker","total marker","fit marker"],
                                "range": ["M0,0Z","M0,0Z",
                                          "M0,-0.353L0.176,0L0,0.353L-0.176,0Z",
                                          "M-0.294,0A0.294,0.294,0,1,1,0.294,0A0.294,0.294,0,1,1,-0.294,0Z",
                                          "M-0.353,-0.265H0.353L0,0.33Z",
                                          "M-0.294,-0.294H0.294V0.294H-0.294Z",
                                          "M0,0Z","M0,0Z","M0,0Z"]},
                      "legend": {"orient": "none", "legendX": 496.3, "legendY": 25.5, "title": null, "padding": 0, "direction": "vertical", "symbolSize": 1156, "symbolOffset": 32, "symbolStrokeWidth": 0, "symbolOpacity": 1, "labelFont": "Liberation Sans", "labelFontSize": 33, "labelExpr": "''", "labelOffset": 49.7, "labelLimit": 800, "rowPadding": 0}}
          }
        },
        {
          "data": {"values": [{}]},
          "mark": {"type": "rect", "fill": "transparent", "stroke": "#168a2f", "strokeWidth": 13, "cornerRadius": 110, "clip": false, "opacity": 1},
          "encoding": {"x": {"datum": -18.3, "axis": null}, "x2": {"datum": 1515.9}, "y": {"datum": 0.13834, "axis": null}, "y2": {"datum": -0.12895}}
        },
        {
          "data": {"values": [{}]},
          "mark": {"type": "rule", "color": "#cc2200", "strokeWidth": 13, "clip": false, "opacity": 1},
          "encoding": {"x": {"datum": -21.9, "axis": null}, "y": {"datum": 0.09045, "axis": null}, "y2": {"datum": -0.0861}}
        },
        {
          "data": {"values": [{}]},
          "mark": {"type": "text", "text": ["Compare to MC predictions", "(binning limited by stat)"], "font": "Roboto", "fontWeight": 300, "fontSize": 98.5, "lineHeight": 111, "align": "center", "baseline": "alphabetic", "color": "#168a2f"},
          "encoding": {"x": {"datum": 56.7, "axis": null}, "y": {"datum": -0.1069, "axis": null}}
        }
      ]
    },
    {
      "width": 1071,
      "height": 241,
      "resolve": {"axis": {"x": "independent", "y": "independent"}},
      "layer": [
        {
          "data": {"name": "band"},
          "mark": {"type": "rect", "color": "#e5e5e5", "opacity": 1},
          "encoding": {
            "x": {"field": "x0", "type": "quantitative",
                  "scale": {"type": "linear", "domain": [0,10,20,30,45,60,80,120,200,350,1000], "range": [0,107.1,214.2,321.3,428.4,535.5,642.6,749.7,856.8,963.9,1071], "nice": false, "zero": false, "padding": 0},
                  "axis": {"orient": "bottom", "values": [0,10,20,30,45,60,80,120,200,350,1000], "tickSize": -6, "labels": false, "title": null}},
            "x2": {"field": "x1"},
            "y": {"field": "lo", "type": "quantitative", "scale": {"domain": [0.02, 2.39], "nice": false, "zero": false, "padding": 0},
                  "axis": {"orient": "left", "values": [0.5,1,1.5,2], "format": "~g", "tickSize": -35, "labelPadding": 42, "title": "Theory/Data", "titleAnchor": "end", "titlePadding": 42}},
            "y2": {"field": "hi"}
          }
        },
        {
          "data": {"values": [{}]},
          "mark": {"type": "rule", "color": "black", "strokeWidth": 2, "strokeDash": [6, 4], "opacity": 1},
          "encoding": {"y": {"datum": 1, "axis": null}}
        },
        {
          "data": {"name": "ratio"},
          "transform": [{"filter": "datum.model == 'MG5'"}],
          "mark": {"type": "bar", "size": 13, "color": "#6699ff", "opacity": 1},
          "encoding": {
            "x": {"field": "pt", "type": "quantitative", "axis": {"orient": "top", "values": [0,10,20,30,45,60,80,120,200,350,1000], "tickSize": -6, "labels": false, "title": null}},
            "y": {"field": "lo", "type": "quantitative", "axis": {"orient": "right", "values": [0.5,1,1.5,2], "tickSize": -35, "labels": false, "title": null}},
            "y2": {"field": "hi"}
          }
        },
        {
          "data": {"name": "ratio"},
          "transform": [{"filter": "datum.model == 'NNLOJET'"}],
          "mark": {"type": "bar", "size": 13, "color": "#ffcc66", "opacity": 1},
          "encoding": {"x": {"field": "pt", "type": "quantitative", "axis": null}, "y": {"field": "lo", "type": "quantitative", "axis": null}, "y2": {"field": "hi"}}
        },
        {
          "data": {"name": "ratio"},
          "transform": [{"filter": "datum.model == 'RadISH'"}],
          "mark": {"type": "bar", "size": 13, "color": "#ff6699", "opacity": 1},
          "encoding": {"x": {"field": "pt", "type": "quantitative", "axis": null}, "y": {"field": "lo", "type": "quantitative", "axis": null}, "y2": {"field": "hi"}}
        },
        {
          "data": {"name": "ratio"},
          "transform": [{"filter": "datum.model == 'NNLOPS'"}],
          "mark": {"type": "bar", "size": 13, "color": "#ffcccc", "opacity": 1},
          "encoding": {"x": {"field": "pt", "type": "quantitative", "axis": null}, "y": {"field": "lo", "type": "quantitative", "axis": null}, "y2": {"field": "hi"}}
        },
        {
          "data": {"name": "ratio"},
          "transform": [{"filter": "datum.model == 'MG5'"}],
          "mark": {"type": "point", "filled": true, "shape": "M0,-1L0.5,0L0,1L-0.5,0Z", "size": 144, "color": "#0000ff", "opacity": 1},
          "encoding": {"x": {"field": "pt", "type": "quantitative", "axis": null}, "y": {"field": "r", "type": "quantitative", "axis": null}}
        },
        {
          "data": {"name": "ratio"},
          "transform": [{"filter": "datum.model == 'NNLOJET'"}],
          "mark": {"type": "point", "filled": true, "shape": "circle", "size": 80, "color": "#ff9900", "opacity": 1},
          "encoding": {"x": {"field": "pt", "type": "quantitative", "axis": null}, "y": {"field": "r", "type": "quantitative", "axis": null}}
        },
        {
          "data": {"name": "ratio"},
          "transform": [{"filter": "datum.model == 'RadISH'"}],
          "mark": {"type": "point", "filled": true, "shape": "M-1,-0.8L1,-0.8L0,0.9Z", "size": 81, "color": "#ff3399", "opacity": 1},
          "encoding": {"x": {"field": "pt", "type": "quantitative", "axis": null}, "y": {"field": "r", "type": "quantitative", "axis": null}}
        },
        {
          "data": {"name": "ratio"},
          "transform": [{"filter": "datum.model == 'NNLOPS'"}],
          "mark": {"type": "point", "filled": true, "shape": "square", "size": 90, "color": "#ff0000", "opacity": 1},
          "encoding": {"x": {"field": "pt", "type": "quantitative", "axis": null}, "y": {"field": "r", "type": "quantitative", "axis": null}}
        }
      ]
    },
    {
      "width": 1071,
      "height": 160,
      "resolve": {"axis": {"x": "independent", "y": "independent"}},
      "layer": [
        {
          "data": {"values": [{}]},
          "mark": {"type": "rule", "color": "black", "strokeWidth": 2, "strokeDash": [6, 5], "opacity": 1},
          "encoding": {"y": {"datum": 1, "axis": null}}
        },
        {
          "data": {"name": "norm"},
          "mark": {"type": "rule", "color": "#b80000", "strokeWidth": 4, "opacity": 1},
          "encoding": {
            "x": {"field": "x0", "type": "quantitative",
                  "scale": {"type": "linear", "domain": [0,10,20,30,45,60,80,120,200,350,1000], "range": [0,107.1,214.2,321.3,428.4,535.5,642.6,749.7,856.8,963.9,1071], "nice": false, "zero": false, "padding": 0},
                  "axis": {"orient": "bottom", "values": [0,10,20,30,45,60,80,120,200,350,1000], "format": "d", "tickSize": -10, "labelPadding": 21, "labelFontSize": 40,
                           "title": "pₜ⁴ˡ [GeV]", "titleAnchor": "end", "titlePadding": 40}},
            "x2": {"field": "x1"},
            "y": {"field": "y", "type": "quantitative", "scale": {"domain": [0.4, 1.8], "nice": false, "zero": false, "padding": 0},
                  "axis": {"orient": "left", "values": [0.5,1,1.5], "format": "~g", "tickSize": -20, "labelPadding": 27, "title": "N/Nᴍᴄ", "titleAnchor": "middle", "titlePadding": 35}}
          }
        },
        {
          "data": {"name": "norm"},
          "mark": {"type": "rule", "color": "#b80000", "strokeWidth": 2.5, "opacity": 1},
          "encoding": {
            "x": {"field": "pt", "type": "quantitative", "axis": {"orient": "top", "values": [0,10,20,30,45,60,80,120,200,350,1000], "tickSize": -10, "labels": false, "title": null}},
            "y": {"field": "lo", "type": "quantitative", "axis": {"orient": "right", "values": [0.5,1,1.5], "tickSize": -20, "labels": false, "title": null}},
            "y2": {"field": "hi"}
          }
        },
        {
          "data": {"name": "norm"},
          "mark": {"type": "point", "filled": true, "shape": "square", "size": 150, "color": "#a00000", "opacity": 1},
          "encoding": {"x": {"field": "pt", "type": "quantitative", "axis": null}, "y": {"field": "y", "type": "quantitative", "axis": null}}
        }
      ]
    }
  ]
}
